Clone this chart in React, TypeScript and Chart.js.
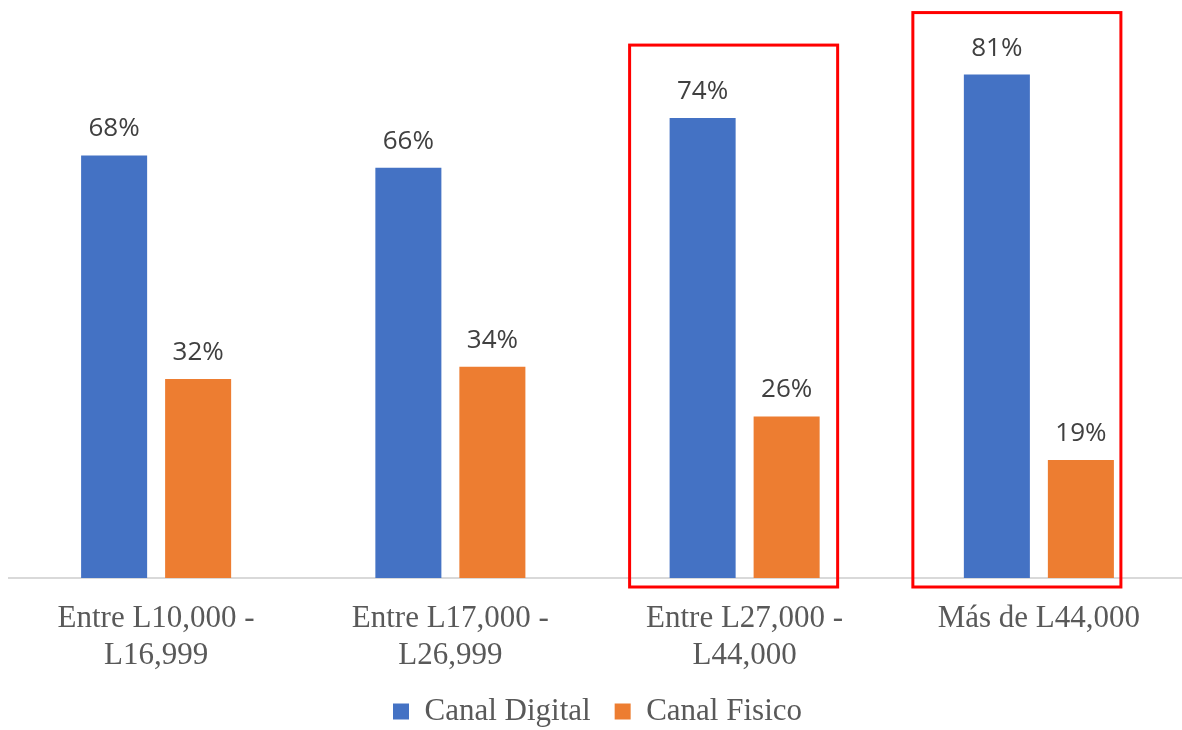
import React, { useEffect, useRef } from "react";
import { Chart, registerables } from "chart.js";

Chart.register(...registerables);

const categories: string[][] = [
  ["Entre L10,000 -", "L16,999"],
  ["Entre L17,000 -", "L26,999"],
  ["Entre L27,000 -", "L44,000"],
  ["Más de L44,000"],
];
const canalDigital = [68, 66, 74, 81];
const canalFisico = [32, 34, 26, 19];
const highlighted = [2, 3];

const dataLabels = {
  id: "dataLabels",
  afterDatasetsDraw(chart: any) {
    const ctx = chart.ctx;
    ctx.save();
    ctx.font = "26px 'Open Sans'";
    ctx.fillStyle = "#404040";
    ctx.textAlign = "center";
    ctx.textBaseline = "alphabetic";
    chart.data.datasets.forEach((ds: any, di: number) => {
      const meta = chart.getDatasetMeta(di);
      meta.data.forEach((el: any, i: number) => {
        ctx.fillText(ds.data[i] + "%", el.x, el.y - 19);
      });
    });
    ctx.restore();
  },
};

const boxes = {
  id: "highlightBoxes",
  afterDraw(chart: any) {
    const ctx = chart.ctx;
    const meta = chart.getDatasetMeta(0);
    const metaB = chart.getDatasetMeta(1);
    const bottom = chart.chartArea.bottom + 9;
    const cfg: Record<number, { l: number; r: number; t: number }> = {
      2: { l: 40, r: 18, t: 73 },
      3: { l: 51, r: 7, t: 62 },
    };
    ctx.save();
    ctx.strokeStyle = "#ff0000";
    ctx.lineWidth = 3;
    highlighted.forEach((i) => {
      const a = meta.data[i] as any;
      const b = metaB.data[i] as any;
      const c = cfg[i];
      const left = a.x - a.width / 2 - c.l;
      const right = b.x + b.width / 2 + c.r;
      const top = a.y - c.t;
      ctx.strokeRect(left, top, right - left, bottom - top);
    });
    ctx.restore();
  },
};

export default function App() {
  const ref = useRef<HTMLCanvasElement>(null);
  useEffect(() => {
    const chart = new Chart(ref.current!, {
      type: "bar",
      data: {
        labels: categories as any,
        datasets: [
          {
            label: "Canal Digital",
            data: canalDigital,
            backgroundColor: "#4472C4",
            categoryPercentage: 0.571,
            barPercentage: 0.786,
          },
          {
            label: "Canal Fisico",
            data: canalFisico,
            backgroundColor: "#ED7D31",
            categoryPercentage: 0.571,
            barPercentage: 0.786,
          },
        ],
      },
      options: {
        responsive: false,
        animation: false,
        layout: { padding: { left: 9, right: 0, top: 0, bottom: 0 } },
        plugins: {
          tooltip: { enabled: false },
          legend: {
            position: "bottom",
            maxHeight: 58,
            labels: {
              font: { family: "'Liberation Serif', 'Times New Roman', serif", size: 31, lineHeight: 1.1 },
              color: "#595959",
              boxWidth: 16,
              boxHeight: 16,
              padding: 24,
            },
          },
        },
        scales: {
          x: {
            grid: { display: false, drawTicks: false },
            border: { display: true, color: "#d9d9d9", width: 2 },
            ticks: {
              font: { family: "'Liberation Serif', 'Times New Roman', serif", size: 31, lineHeight: 1.18 },
              color: "#595959",
              padding: 23,
              maxRotation: 0,
              autoSkip: false,
            },
            afterFit: (s: any) => {
              s.height = 94;
            },
          },
          y: {
            display: false,
            min: 0,
            max: 93,
          },
        },
      },
      plugins: [dataLabels, boxes],
    });
    return () => chart.destroy();
  }, []);
  return (
    <div style={{ position: "fixed", left: 0, top: 0, width: 1182, height: 730, overflow: "hidden", background: "#fff" }}>
      <canvas ref={ref} width={1186} height={730} style={{ display: "block" }} />
    </div>
  );
}
